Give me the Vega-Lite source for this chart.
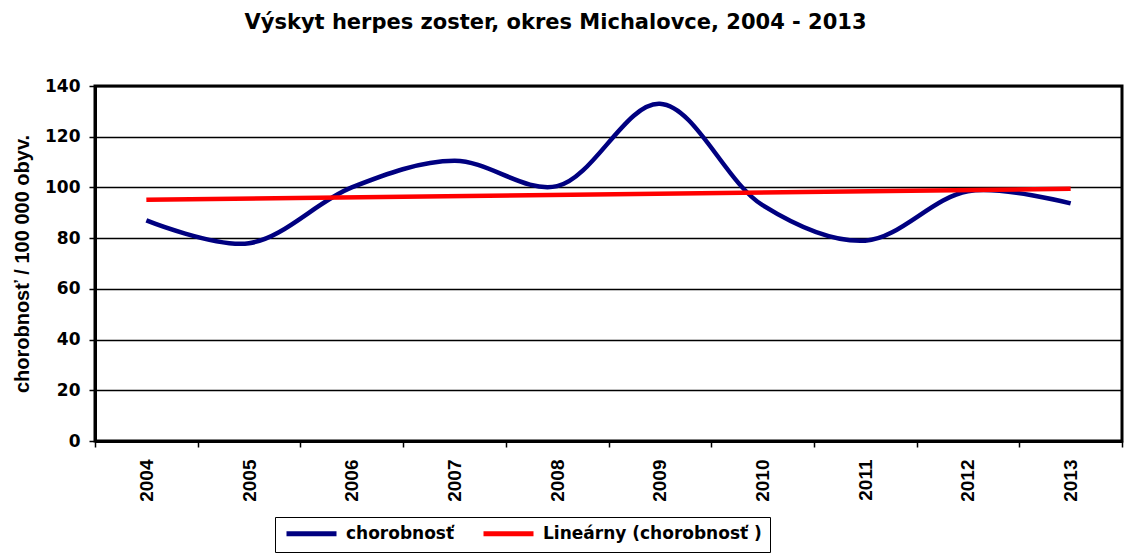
{
  "$schema": "https://vega.github.io/schema/vega-lite/v6.json",
  "autosize": "none",
  "width": 1027,
  "height": 355,
  "padding": {"left": 95, "top": 86, "right": 6, "bottom": 113},
  "background": "white",
  "config": {
    "font": "DejaVu Sans",
    "view": {"stroke": "black", "strokeWidth": 3}
  },
  "title": {
    "text": "Výskyt herpes zoster, okres Michalovce, 2004 - 2013",
    "font": "DejaVu Sans",
    "fontSize": 21,
    "fontWeight": "bold",
    "color": "black",
    "anchor": "middle",
    "frame": "group",
    "dx": -53,
    "offset": 44
  },
  "data": {
    "values": [
      {"year": 2004, "value": 87},
      {"year": 2005, "value": 78},
      {"year": 2006, "value": 100},
      {"year": 2007, "value": 110.5},
      {"year": 2008, "value": 100.5},
      {"year": 2009, "value": 133},
      {"year": 2010, "value": 93},
      {"year": 2011, "value": 79},
      {"year": 2012, "value": 98.5},
      {"year": 2013, "value": 93.7}
    ]
  },
  "encoding": {
    "x": {
      "field": "year",
      "type": "ordinal",
      "scale": {"domain": [2004, 2005, 2006, 2007, 2008, 2009, 2010, 2011, 2012, 2013], "paddingInner": 0, "paddingOuter": 0},
      "axis": {
        "title": null,
        "labelAngle": -90,
        "labelAlign": "right",
        "labelBaseline": "middle",
        "labelFont": "Liberation Sans",
        "labelFontSize": 19,
        "labelFontWeight": "bold",
        "labelColor": "black",
        "labelPadding": 12,
        "tickBand": "extent",
        "tickColor": "black",
        "tickWidth": 1.5,
        "tickSize": 6,
        "domainColor": "black",
        "domainWidth": 3,
        "grid": false
      }
    },
    "y": {
      "field": "value",
      "type": "quantitative",
      "scale": {"domain": [0, 140], "nice": false},
      "axis": {
        "title": "chorobnosť / 100 000 obyv.",
        "titleFont": "Liberation Sans",
        "titleFontSize": 20,
        "titleFontWeight": "bold",
        "titleColor": "black",
        "titlePadding": 12,
        "values": [0, 20, 40, 60, 80, 100, 120, 140],
        "labelFont": "DejaVu Sans",
        "labelFontSize": 17,
        "labelFontWeight": "bold",
        "labelColor": "black",
        "labelPadding": 9,
        "tickColor": "black",
        "tickWidth": 1.5,
        "tickSize": 6,
        "domainColor": "black",
        "domainWidth": 3,
        "grid": true,
        "gridColor": "black",
        "gridWidth": 1.5
      }
    }
  },
  "layer": [
    {
      "mark": {"type": "line", "interpolate": "catmull-rom", "strokeWidth": 4.5},
      "encoding": {
        "color": {
          "datum": "chorobnosť",
          "type": "nominal",
          "scale": {"domain": ["chorobnosť", "Lineárny (chorobnosť )"], "range": ["#000080", "#FF0000"]},
          "legend": {
            "title": null,
            "orient": "none",
            "legendX": 180,
            "legendY": 431,
            "direction": "horizontal",
            "symbolType": "M-1,0H9",
            "symbolSize": 100,
            "symbolStrokeWidth": 5,
            "labelOffset": 46,
            "labelFont": "DejaVu Sans",
            "labelFontSize": 17,
            "labelFontWeight": "bold",
            "labelColor": "black",
            "labelLimit": 400,
            "columnPadding": 18,
            "strokeColor": "black",
            "padding": 8,
            "fillColor": "white"
          }
        }
      }
    },
    {
      "transform": [{"regression": "value", "on": "year"}],
      "mark": {"type": "line", "strokeWidth": 4.5},
      "encoding": {
        "color": {"datum": "Lineárny (chorobnosť )", "type": "nominal"}
      }
    }
  ]
}
